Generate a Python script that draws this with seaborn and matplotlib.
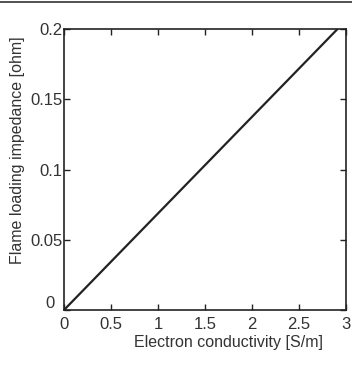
import numpy as np
import pandas as pd
import seaborn as sns
import matplotlib.pyplot as plt
import matplotlib.transforms as mtransforms
from matplotlib.lines import Line2D

# dati
conductivity = [0.0, 2.91]
impedance = [0.0, 0.2]
x_ticks = [0, 0.5, 1, 1.5, 2, 2.5, 3]
x_labels = ['0', '0.5', '1', '1.5', '2', '2.5', '3']
y_ticks = [0, 0.05, 0.1, 0.15, 0.2]
y_labels = ['0', '0.05', '0.1', '0.15', '0.2']

df = pd.DataFrame({'sigma': conductivity, 'Z': impedance})

sns.set_style('white')
plt.rcParams['font.family'] = ['Liberation Sans', 'DejaVu Sans']

fig = plt.figure(figsize=(3.52, 3.70), dpi=100)
ax = fig.add_axes([64 / 352, 1 - 310 / 370, 282 / 352, 281 / 370])

sns.lineplot(x='sigma', y='Z', data=df, ax=ax, color='#222222', linewidth=1.6)

ax.set_xlim(0, 3)
ax.set_ylim(0, 0.2)
ax.set_xticks(x_ticks)
ax.set_xticklabels(x_labels)
ax.set_yticks(y_ticks)
ax.set_yticklabels(y_labels)
ax.tick_params(direction='in', length=4, width=1, colors='#222222',
               labelsize=12, labelcolor='#333333')
ax.tick_params(axis='x', top=True, bottom=True, labeltop=False, pad=5)
ax.tick_params(axis='y', right=True, left=True, labelright=False, pad=1)
for s in ax.spines.values():
    s.set_visible(True)
    s.set_color('#222222')
    s.set_linewidth(1.2)

# lo "0" dell'asse y sta un po' più in alto e a sinistra, come nell'originale
zero_lbl = ax.get_yticklabels()[0]
zero_lbl.set_transform(zero_lbl.get_transform() +
                       mtransforms.ScaledTranslation(-8 / 100, 8 / 100, fig.dpi_scale_trans))

ax.set_xlabel('Electron conductivity [S/m]', fontsize=11.5, color='#333333')
ax.set_ylabel('Flame loading impedance [ohm]', fontsize=11.5, color='#333333')
ax.xaxis.set_label_coords(0.585, -0.09)
ax.yaxis.set_label_coords(-0.138, 0.57)

# linea orizzontale in alto
fig.add_artist(Line2D([0, 1], [1 - 2 / 370, 1 - 2 / 370], transform=fig.transFigure,
                      color='#333333', linewidth=1.2))

plt.savefig('out.png', dpi=100)
plt.close()
